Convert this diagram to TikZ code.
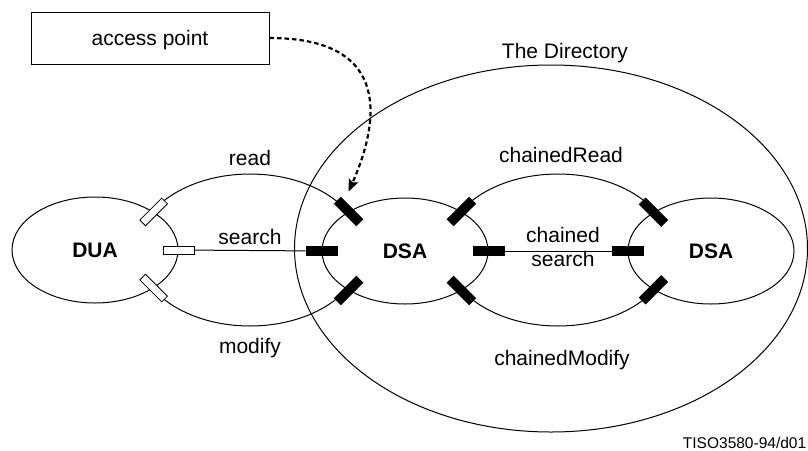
\documentclass[tikz,border=0pt]{standalone}
\usepackage{fontspec}
\setmainfont{Liberation Sans}
\usetikzlibrary{shapes.geometric,arrows.meta}
\tikzset{
  entity/.style={ellipse,draw,fill=white,minimum width=166pt,minimum height=106pt,inner sep=0pt,font=\fontsize{21}{25}\bfseries},
  link/.style={ellipse,draw,minimum width=226pt,minimum height=152pt,inner sep=0pt},
  openport/.style={rectangle,draw,fill=white,line width=0.8pt,minimum width=31pt,minimum height=8pt,inner sep=0pt},
  dsaport/.style={openport,fill=black,minimum height=9pt},
  lbl/.style={anchor=base},
}
\begin{document}
\begin{tikzpicture}[x=1pt,y=-1pt,line width=1pt,font=\fontsize{21}{24}\selectfont]
\useasboundingbox (0,0) rectangle (808,450);
% the directory
\draw (551,248.5) ellipse [x radius=256.5,y radius=183.5];
\node[lbl] (dir) at (565,58) {The Directory};
% the two application contexts, then the agents over them
\node[link] (rw) at (250,250) {};
\node[link] (chain) at (558,250) {};
\node[entity] (dua) at (95,250) {DUA};
\node[entity] (dsaA) at (405,251) {DSA};
\node[entity] (dsaB) at (711,251) {DSA};
% ports
\foreach \a/\r/\n in {33/45/ne,0/0/e,-33/-45/se}{\node[openport,rotate=\r] (dua\n) at (dua.\a) {};}
\foreach \a/\r/\n in {145/-45/nw,180/0/w,215/45/sw,35/45/ne,0/0/e,-35/-45/se}{\node[dsaport,rotate=\r] (dsaA\n) at (dsaA.\a) {};}
\foreach \a/\r/\n in {146/-45/nw,180/0/w,214/45/sw}{\node[dsaport,rotate=\r] (dsaB\n) at (dsaB.\a) {};}
\draw (duae)--(dsaAw);
\draw (dsaAe)--(dsaBw);
% labels
\node[lbl] (rd) at (250,165) {read};
\node[lbl] (srch) at (250,244) {search};
\node[lbl] (mod) at (250,353) {modify};
\node[lbl] (crd) at (561,162) {chainedRead};
\node[align=center] (csrch) at (563,247) {chained\\search};
\node[lbl] (cmod) at (562,365) {chainedModify};
% access point
\node[draw,minimum width=238pt,minimum height=52pt,text depth=0pt] (ap) at (150,38) {access point};
\draw[line width=2.2pt,dash pattern=on 4.5pt off 3pt,-{Stealth[length=12pt,width=10pt,inset=2pt]}]
  (ap.east) .. controls (395,38) and (378,125) .. ([yshift=20pt]dsaAnw.center);
\node[anchor=base east,font=\fontsize{15.5}{18}\selectfont] (ref) at (810,448) {TISO3580-94/d01};
\end{tikzpicture}
\end{document}
